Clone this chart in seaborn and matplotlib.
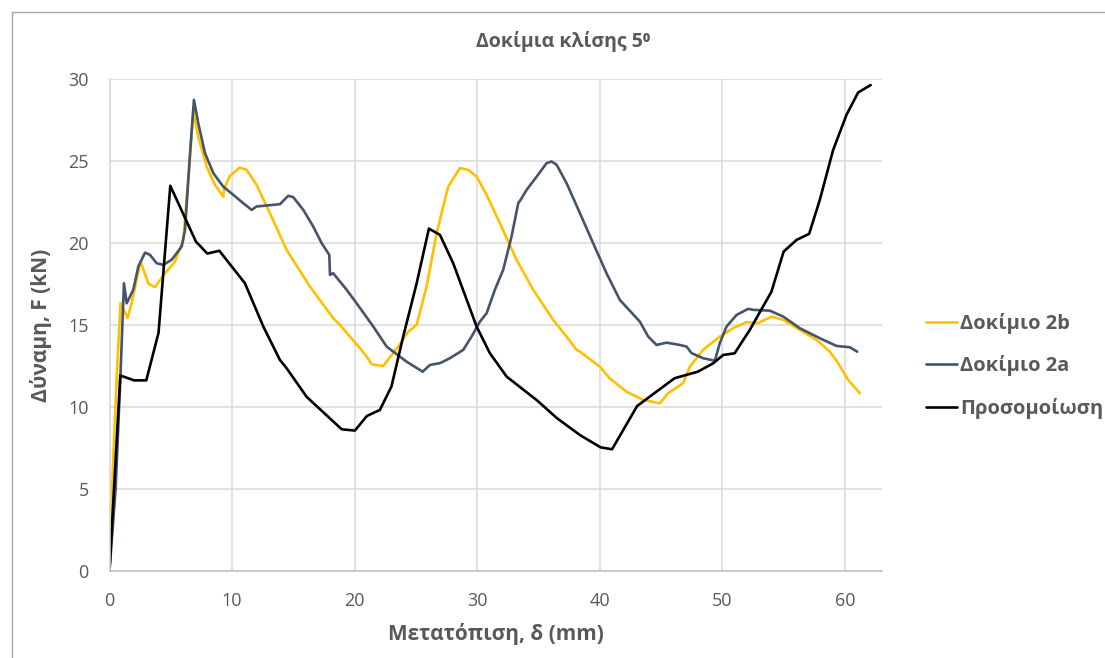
import matplotlib
matplotlib.use("Agg")
import matplotlib.pyplot as plt
import seaborn as sns
import pandas as pd
from matplotlib.lines import Line2D

# ---- data ----
series_names = ["Δοκίμιο 2b", "Δοκίμιο 2a", "Προσομοίωση"]

x_2b = [0, 0.26, 0.6, 0.9, 1.48, 1.8, 2.54, 3.17, 3.71, 4.53, 5.34, 6.02, 6.51, 6.84,
        7.24, 7.93, 8.6, 9.28, 9.36, 9.83, 10.64, 11.19, 12.0, 13.09, 14.45, 16.35,
        18.25, 18.8, 20.43, 20.98, 21.39, 22.33, 23.56, 24.37, 25.06, 25.87, 26.69,
        27.63, 28.59, 29.27, 29.95, 30.77, 31.85, 33.21, 34.57, 36.2, 37.29, 38.1,
        38.38, 40.0, 40.8, 42.18, 43.54, 44.9, 45.58, 46.8, 47.35, 48.43, 49.79,
        50.88, 51.97, 52.92, 54.01, 54.96, 56.32, 57.68, 58.77, 59.45, 60.26, 61.22]
y_2b = [0, 6, 12, 16.3, 15.4, 16.3, 18.84, 17.5, 17.28, 18.13, 18.84, 20.16, 24.6, 27.99,
        26.46, 24.63, 23.52, 22.8, 23.3, 24.07, 24.57, 24.43, 23.52, 21.79, 19.55, 17.32,
        15.39, 14.98, 13.56, 13.05, 12.58, 12.48, 13.66, 14.57, 14.98, 17.32, 20.57,
        23.41, 24.54, 24.43, 24.02, 22.91, 21.18, 18.95, 17.12, 15.29, 14.27, 13.46,
        13.35, 12.44, 11.73, 10.91, 10.41, 10.2, 10.82, 11.43, 12.44, 13.46, 14.27,
        14.78, 15.15, 15.09, 15.49, 15.29, 14.68, 14.07, 13.35, 12.65, 11.63, 10.82]

x_2a = [0, 0.5, 0.9, 1.18, 1.4, 1.94, 2.35, 2.9, 3.3, 3.85, 4.39, 5.07, 5.89, 6.16, 6.57,
        6.89, 7.24, 7.79, 8.47, 9.28, 10.1, 10.91, 11.6, 12.0, 12.82, 13.91, 14.58, 14.99,
        15.81, 16.62, 17.31, 17.93, 17.99, 18.25, 19.35, 20.16, 21.52, 22.61, 24.24,
        25.55, 26.14, 26.96, 27.77, 28.86, 29.54, 30.22, 30.77, 31.44, 32.12, 32.8,
        33.35, 33.62, 34.03, 34.85, 35.66, 36.07, 36.48, 37.29, 38.38, 39.46, 40.55,
        41.64, 43.27, 43.95, 44.63, 45.45, 46.53, 47.08, 47.49, 48.43, 49.39, 49.79,
        50.34, 51.16, 52.1, 52.51, 53.87, 54.96, 56.32, 57.95, 59.31, 60.4, 61.0]
y_2a = [0, 5, 12, 17.52, 16.3, 17.12, 18.54, 19.39, 19.25, 18.74, 18.64, 18.95, 19.76, 20.77,
        25.45, 28.7, 27.28, 25.45, 24.23, 23.41, 22.91, 22.4, 21.99, 22.2, 22.26, 22.34,
        22.85, 22.77, 21.99, 20.98, 19.96, 19.25, 18.03, 18.13, 17.12, 16.3, 14.88, 13.66,
        12.74, 12.13, 12.54, 12.65, 12.95, 13.46, 14.27, 15.18, 15.7, 17.12, 18.34, 20.37,
        22.4, 22.7, 23.21, 24.02, 24.84, 24.94, 24.74, 23.62, 21.79, 19.96, 18.13, 16.5,
        15.18, 14.27, 13.76, 13.9, 13.76, 13.66, 13.26, 12.95, 12.8, 13.87, 14.88, 15.59,
        15.96, 15.9, 15.85, 15.49, 14.78, 14.17, 13.7, 13.62, 13.35]

x_sim = [0, 0.88, 2.0, 3.0, 4.0, 4.96, 7.05, 7.98, 8.96, 11.05, 12.55, 13.9, 14.45, 16.08,
         18.94, 20.02, 21.0, 22.06, 23.0, 23.96, 25.06, 26.06, 26.96, 28.04, 29.95, 31.03,
         32.4, 34.85, 36.5, 38.38, 40.06, 41.0, 43.05, 46.1, 48.0, 49.25, 50.07, 51.0,
         52.24, 54.0, 55.0, 56.05, 57.08, 57.95, 59.04, 60.13, 61.08, 62.1]
y_sim = [0, 11.9, 11.6, 11.6, 14.5, 23.46, 20.06, 19.33, 19.5, 17.52, 14.88, 12.85, 12.34,
         10.6, 8.62, 8.54, 9.43, 9.8, 11.22, 14.27, 17.52, 20.85, 20.47, 18.74, 14.88,
         13.26, 11.83, 10.4, 9.3, 8.27, 7.52, 7.4, 10.04, 11.73, 12.13, 12.64, 13.15,
         13.25, 14.68, 17.0, 19.45, 20.16, 20.53, 22.6, 25.65, 27.79, 29.15, 29.6]

x_ticks = [0, 10, 20, 30, 40, 50, 60]
y_ticks = [0, 5, 10, 15, 20, 25, 30]

title = "Δοκίμια κλίσης 5⁰"
xlabel = "Μετατόπιση, δ (mm)"
ylabel = "Δύναμη, F (kN)"

# ---- dataframe ----
frames = []
for name, xs, ys in zip(series_names, [x_2b, x_2a, x_sim], [y_2b, y_2a, y_sim]):
    frames.append(pd.DataFrame({"x": xs, "y": ys, "series": name, "order": range(len(xs))}))
df = pd.concat(frames, ignore_index=True)

palette = {"Δοκίμιο 2b": "#FFC000", "Δοκίμιο 2a": "#44546A", "Προσομοίωση": "#000000"}

sns.set_theme(style="white")
plt.rcParams["font.family"] = ["Open Sans", "DejaVu Sans"]

W, H = 1105, 658
fig = plt.figure(figsize=(W / 100, H / 100), dpi=100)
ax = fig.add_axes([109.5 / W, 1 - 570.7 / H, (881.7 - 109.5) / W, (570.7 - 78.5) / H])

sns.lineplot(data=df, x="x", y="y", hue="series", palette=palette, sort=False,
             estimator=None, units="series", linewidth=1.9, ax=ax, legend=False,
             hue_order=series_names)

ax.set_xlim(0, 63)
ax.set_ylim(0, 30)
ax.set_xticks(x_ticks)
ax.set_yticks(y_ticks)
ax.grid(True, color="#D9D9D9", linewidth=1.1)
ax.set_axisbelow(True)
for s in ["top", "right"]:
    ax.spines[s].set_visible(False)
ax.spines["left"].set_color("#D9D9D9")
ax.spines["bottom"].set_color("#BFBFBF")
ax.spines["left"].set_linewidth(1.1)
ax.spines["bottom"].set_linewidth(1.1)
ax.tick_params(axis="both", length=0, pad=15, labelsize=13, labelcolor="#595959")
ax.set_xlabel("")
ax.set_ylabel("")

txt_col = "#595959"
fig.text(563 / W, 1 - 42 / H, title, ha="center", va="center", fontsize=14,
         color=txt_col, fontweight="bold")
fig.text(496 / W, 1 - 634 / H, xlabel, ha="center", va="center", fontsize=15,
         color=txt_col, fontweight="bold")
fig.text(41 / W, 1 - 325 / H, ylabel, ha="center", va="center", fontsize=15,
         color=txt_col, fontweight="bold", rotation=90)

# legend
handles = [Line2D([0], [0], color=palette[n], linewidth=1.9) for n in series_names]
leg = fig.legend(handles, series_names, loc="center left",
                 bbox_to_anchor=(916 / W, 1 - 366 / H), frameon=False,
                 prop={"size": 14.5, "weight": "bold"}, handlelength=1.55,
                 handletextpad=0.15, labelspacing=1.05, borderpad=0)
for t in leg.get_texts():
    t.set_color(txt_col)

# chart area border (top and left visible)
fig.add_artist(Line2D([12 / W, 12 / W], [0, 1 - 12 / H], color="#A6A6A6", linewidth=1,
                      transform=fig.transFigure))
fig.add_artist(Line2D([12 / W, 1], [1 - 12 / H, 1 - 12 / H], color="#A6A6A6", linewidth=1,
                      transform=fig.transFigure))

fig.savefig("out.png", dpi=100)
